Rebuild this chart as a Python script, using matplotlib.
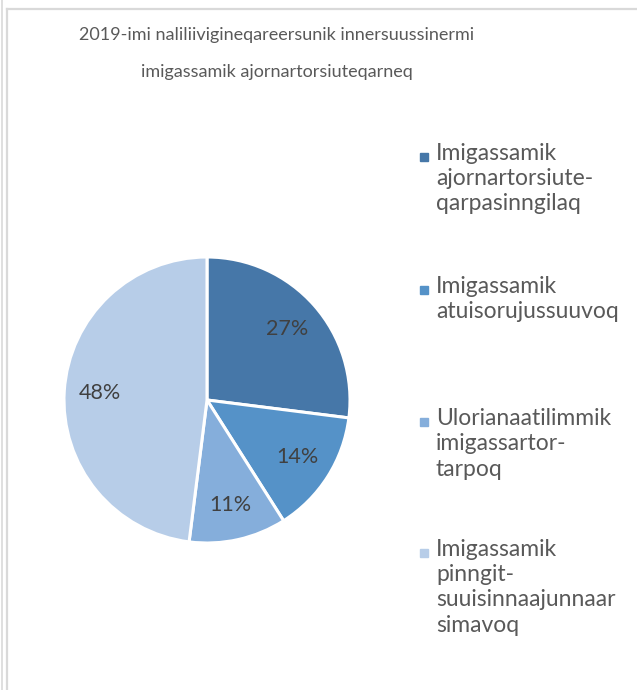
import matplotlib
matplotlib.use("Agg")
import matplotlib.pyplot as plt
from matplotlib.patches import Rectangle
from matplotlib.lines import Line2D

# ─────────────────────────────
# DATA
# ─────────────────────────────
title_lines = ["2019-imi naliliivigineqareersunik innersuussinermi",
               "imigassamik ajornartorsiuteqarneq"]
categories = [
    "Imigassamik\najornartorsiute-\nqarpasinngilaq",
    "Imigassamik\natuisorujussuuvoq",
    "Ulorianaatilimmik\nimigassartor-\ntarpoq",
    "Imigassamik\npinngit-\nsuuisinnaajunnaar\nsimavoq",
]
shares = [27, 14, 11, 48]
colors = ["#4677A8", "#5592C8", "#85AEDB", "#B7CDE8"]

W, H = 637, 690
plt.rcParams["font.family"] = ["Lato", "DejaVu Sans"]

fig = plt.figure(figsize=(W / 100, H / 100), dpi=100)
fig.patch.set_facecolor("white")

def fx(px):
    return px / W

def fy(py):
    return 1 - py / H

# frame lines (chart area border, cropped on right/bottom)
border = "#D9D9D9"
fig.add_artist(Line2D([fx(7), fx(7)], [fy(9), fy(H + 5)], color=border, lw=1.6, transform=fig.transFigure))
fig.add_artist(Line2D([fx(7), fx(W + 5)], [fy(9), fy(9)], color=border, lw=1.6, transform=fig.transFigure))
fig.add_artist(Line2D([fx(2), fx(2)], [fy(-5), fy(H + 5)], color=border, lw=1.2, transform=fig.transFigure))

# title
for i, line in enumerate(title_lines):
    fig.text(fx(277), fy(35 + i * 37), line, ha="center", va="center",
             fontsize=13, color="#595959")

# pie
cx, cy, r = 207, 400, 143
ax = fig.add_axes([fx(cx - r), fy(cy + r), 2 * r / W, 2 * r / H])
wedges, texts, autotexts = ax.pie(
    shares, colors=colors, startangle=90, counterclock=False,
    autopct=lambda p: f"{p:.0f}%", pctdistance=0.75,
    wedgeprops={"edgecolor": "white", "linewidth": 2.2},
    textprops={"fontsize": 15.5, "color": "#404040"},
)
ax.set_xlim(-1, 1)
ax.set_ylim(-1, 1)
ax.set_aspect("equal")
ax.axis("off")

# legend drawn by hand: fixed spacing between entries
leg_y = [157, 290, 422, 553]
for lab, col, y in zip(categories, colors, leg_y):
    fig.add_artist(Rectangle((fx(420), fy(y + 4)), 8 / W, 8 / H, color=col,
                             transform=fig.transFigure))
    fig.text(fx(436), fy(y - 14), lab, ha="left", va="top", fontsize=16.5,
             color="#595959", linespacing=1.25)

fig.savefig("out.png", dpi=100)
